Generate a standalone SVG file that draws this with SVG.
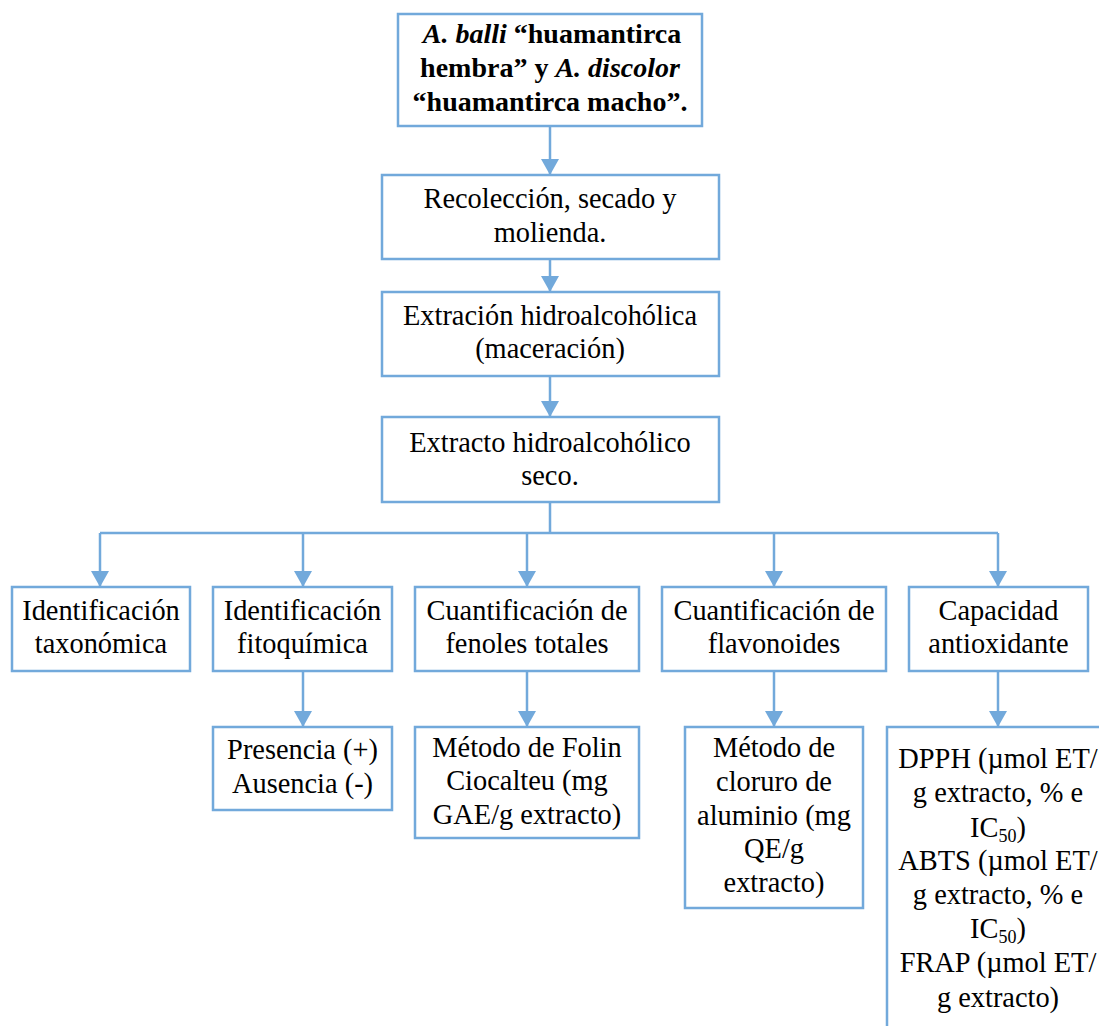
<svg xmlns="http://www.w3.org/2000/svg" width="1099" height="1026" viewBox="0 0 1099 1026">
<style>
.box{fill:#fff;stroke:#72A9DB;stroke-width:2.5}
.ln{fill:none;stroke:#72A9DB;stroke-width:2.5}
text{font-family:'Liberation Serif','Times New Roman','DejaVu Serif',serif;font-size:28.4px;fill:#000;text-anchor:middle}
.b{font-weight:bold;font-size:28px}
.sub{font-size:18px}
</style>
<defs>
<marker id="ah" markerUnits="userSpaceOnUse" markerWidth="17" markerHeight="18" viewBox="0 0 17 18" refX="16" refY="9" orient="auto">
<path d="M0,0 L16,9 L0,18 Z" fill="#72A9DB"/>
</marker>
</defs>
<rect width="1099" height="1026" fill="#fff"/>
<g id="connectors">
<path class="ln" d="M550,126 V175" marker-end="url(#ah)"/>
<path class="ln" d="M550,259 V292" marker-end="url(#ah)"/>
<path class="ln" d="M550,376 V417" marker-end="url(#ah)"/>
<path class="ln" d="M550,502 V533 M100,533 H998"/>
<path class="ln" d="M100,533 V587" marker-end="url(#ah)"/>
<path class="ln" d="M303,533 V587" marker-end="url(#ah)"/>
<path class="ln" d="M527,533 V587" marker-end="url(#ah)"/>
<path class="ln" d="M774,533 V587" marker-end="url(#ah)"/>
<path class="ln" d="M998,533 V587" marker-end="url(#ah)"/>
<path class="ln" d="M303,671 V727" marker-end="url(#ah)"/>
<path class="ln" d="M527,671 V727" marker-end="url(#ah)"/>
<path class="ln" d="M774,671 V727" marker-end="url(#ah)"/>
<path class="ln" d="M998,671 V727" marker-end="url(#ah)"/>
</g>
<g id="n-especies">
<rect class="box" x="398" y="14" width="304" height="112"/>
<text class="b" x="552" y="43"><tspan font-style="italic">A. balli</tspan> “huamantirca</text>
<text class="b" x="550" y="77">hembra” y <tspan font-style="italic">A. discolor</tspan></text>
<text class="b" x="550" y="111">“huamantirca macho”.</text>
</g>
<g id="n-recoleccion">
<rect class="box" x="382" y="175" width="337" height="84"/>
<text x="550" y="208">Recolección, secado y</text>
<text x="550" y="242">molienda.</text>
</g>
<g id="n-extraccion">
<rect class="box" x="382" y="292" width="337" height="84"/>
<text x="550" y="325">Extración hidroalcohólica</text>
<text x="550" y="358">(maceración)</text>
</g>
<g id="n-extracto">
<rect class="box" x="382" y="417" width="337" height="85"/>
<text x="550" y="452">Extracto hidroalcohólico</text>
<text x="550" y="485">seco.</text>
</g>
<g id="n-taxonomica">
<rect class="box" x="12" y="587" width="178" height="84"/>
<text x="101" y="620">Identificación</text>
<text x="101" y="653">taxonómica</text>
</g>
<g id="n-fitoquimica">
<rect class="box" x="213" y="587" width="179" height="84"/>
<text x="302.5" y="620">Identificación</text>
<text x="302.5" y="653">fitoquímica</text>
</g>
<g id="n-fenoles">
<rect class="box" x="415" y="587" width="224" height="84"/>
<text x="527" y="620">Cuantificación de</text>
<text x="527" y="653">fenoles totales</text>
</g>
<g id="n-flavonoides">
<rect class="box" x="662" y="587" width="224" height="84"/>
<text x="774" y="620">Cuantificación de</text>
<text x="774" y="653">flavonoides</text>
</g>
<g id="n-antioxidante">
<rect class="box" x="909" y="587" width="179" height="84"/>
<text x="998.5" y="620">Capacidad</text>
<text x="998.5" y="653">antioxidante</text>
</g>
<g id="n-presencia">
<rect class="box" x="213" y="727" width="179" height="83"/>
<text x="302.5" y="759">Presencia (+)</text>
<text x="302.5" y="793">Ausencia (-)</text>
</g>
<g id="n-folin">
<rect class="box" x="415" y="727" width="224" height="111"/>
<text x="527" y="757">Método de Folin</text>
<text x="527" y="790">Ciocalteu (mg</text>
<text x="527" y="824">GAE/g extracto)</text>
</g>
<g id="n-cloruro">
<rect class="box" x="685" y="727" width="178" height="181"/>
<text x="774" y="757">Método de</text>
<text x="774" y="791">cloruro de</text>
<text x="774" y="825">aluminio (mg</text>
<text x="774" y="858">QE/g</text>
<text x="774" y="892">extracto)</text>
</g>
<g id="n-metodos">
<rect class="box" x="887" y="727" width="230" height="320"/>
<text x="998" y="768">DPPH (µmol ET/</text>
<text x="998" y="802">g extracto, % e</text>
<text x="998" y="837">IC<tspan class="sub" dy="5">50</tspan><tspan dy="-5">)</tspan></text>
<text x="998" y="870">ABTS (µmol ET/</text>
<text x="998" y="904">g extracto, % e</text>
<text x="998" y="938">IC<tspan class="sub" dy="5">50</tspan><tspan dy="-5">)</tspan></text>
<text x="998" y="972">FRAP (µmol ET/</text>
<text x="998" y="1007">g extracto)</text>
</g>
</svg>
